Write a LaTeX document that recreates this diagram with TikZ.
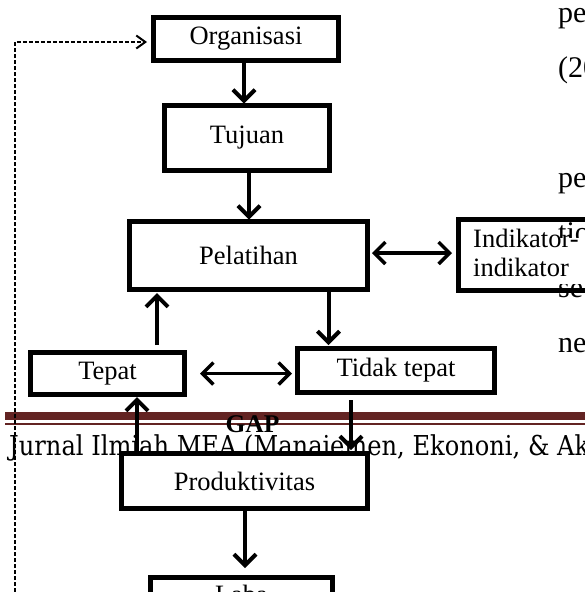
\documentclass[tikz,border=0pt]{standalone}
\usepackage{fontspec}
\setmainfont{Liberation Serif}
\newfontfamily\hdrfont{DejaVu Serif}
\usetikzlibrary{arrows.meta}
\definecolor{bandred}{RGB}{99,36,35}
\newcommand\lab{\fontsize{26.5pt}{30pt}\selectfont}
\newcommand\bodysize{\fontsize{30pt}{34pt}\selectfont}
\newcommand\hdrsize{\fontsize{27.4pt}{30pt}\selectfont}
\newlength\hdrw
\begin{document}
\settowidth\hdrw{\hdrfont\hdrsize Jurnal Ilmiah MEA (Manajemen, Ekononi, \& }
\pgfmathsetmacro\hdrs{548/\hdrw}
\begin{tikzpicture}[x=1pt,y=-1pt,
  box/.style={draw, line width=5pt, fill=white, inner sep=0pt, outer sep=0pt, font=\lab},
  arr/.style={line width=4pt, -{Straight Barb[length=11pt,width=22pt]}},
  darr/.style={line width=3.5pt, {Straight Barb[length=11pt,width=22pt]}-{Straight Barb[length=11pt,width=22pt]}},
  dsh/.style={line width=2pt, dash pattern=on 4pt off 2pt, -{Straight Barb[length=9pt,width=13pt]}},
  body/.style={anchor=base west, inner sep=0pt, font=\bodysize},
  inlab/.style={anchor=base west, inner sep=0pt, font=\lab},
]
\useasboundingbox (0,0) rectangle (585,592);
\clip (0,0) rectangle (585,592);
\fill[white] (0,0) rectangle (585,592);

% body text of the page
\node[body] (t1) at (558,22) {pe};
\node[body] (t2) at (558,77) {(20};
\node[body] (t3) at (558,187) {pe};
\node[body] (t4) at (558,242) {tio};
\node[body] (t5) at (558,297) {se};
\node[body] (t6) at (558,352) {ne};

% header band and running head
\fill[bandred] (5,412) rectangle (590,420);
\fill[bandred] (5,423) rectangle (590,425);
\node[anchor=base west, inner sep=0pt] (hdr) at (9,455)
  {\hdrfont\hdrsize\scalebox{\hdrs}[1]{Jurnal Ilmiah MEA (Manajemen, Ekononi, \& Ak}};
\node[anchor=base, inner sep=0pt, font=\bfseries\fontsize{25.5pt}{28pt}\selectfont] (gap) at (252.5,432) {GAP};

% boxes
\node[box, minimum width=185pt, minimum height=43pt] (org) at (246,39) {Organisasi};
\node[box, minimum width=165pt, minimum height=65pt] (tuj) at (247,138) {Tujuan};
\node[box, minimum width=238pt, minimum height=68pt] (pel) at (248.5,255.5) {Pelatihan};
\node[box, fill=none, minimum width=200pt, minimum height=71pt, anchor=west] (ind) at (458.5,255) {};
\fill[white] (461,238) rectangle (590,284);
\node[inlab] (indt1) at (473,247) {Indikator-};
\node[inlab] (indt2) at (473,276) {indikator};
\node[box, minimum width=154pt, minimum height=42pt] (tep) at (107.5,373.5) {Tepat};
\node[box, minimum width=197pt, minimum height=44pt] (tid) at (396,370.5) {Tidak tepat};
\node[box, minimum width=246pt, minimum height=55pt] (prod) at (244.5,481) {Produktivitas};
\node[box, minimum width=182pt, anchor=north, text height=18pt, text depth=0pt, inner ysep=8pt] (laba) at (241.5,577.5) {Laba};

% connector positions
\coordinate (xa) at (244,0);
\coordinate (xb) at (249,0);
\coordinate (yc) at (0,253);
\coordinate (xd) at (157,0);
\coordinate (xe) at (328.5,0);
\coordinate (yf) at (0,373.5);
\coordinate (xg) at (137,0);
\coordinate (xh) at (351,0);
\coordinate (xi) at (245,0);
\coordinate (xl) at (15,0);

% connectors
\draw[arr, shorten >=2pt] (org.south -| xa) -- (tuj.north -| xa);
\draw[arr, shorten >=2pt] (tuj.south -| xb) -- (pel.north -| xb);
\draw[darr, shorten <=4.5pt, shorten >=6.5pt] (pel.east |- yc) -- (ind.west |- yc);
\draw[arr, shorten <=7.5pt, shorten >=3.5pt] (tep.north -| xd) -- (pel.south -| xd);
\draw[arr, shorten >=3.5pt] (pel.south -| xe) -- (tid.north -| xe);
\draw[darr, shorten <=15.5pt, shorten >=5.5pt] (tep.east |- yf) -- (tid.west |- yf);
\draw[arr, shorten >=2.5pt] (prod.north -| xg) -- (tep.south -| xg);
\draw[arr, shorten <=7.5pt, shorten >=3.5pt] (tid.south -| xh) -- (prod.north -| xh);
\draw[arr, shorten >=9.5pt] (prod.south -| xi) -- (laba.north -| xi);
\draw[dsh, shorten >=6.5pt] (laba.west) -- (laba.west -| xl) |- ([yshift=-3pt]org.west);
\end{tikzpicture}
\end{document}
